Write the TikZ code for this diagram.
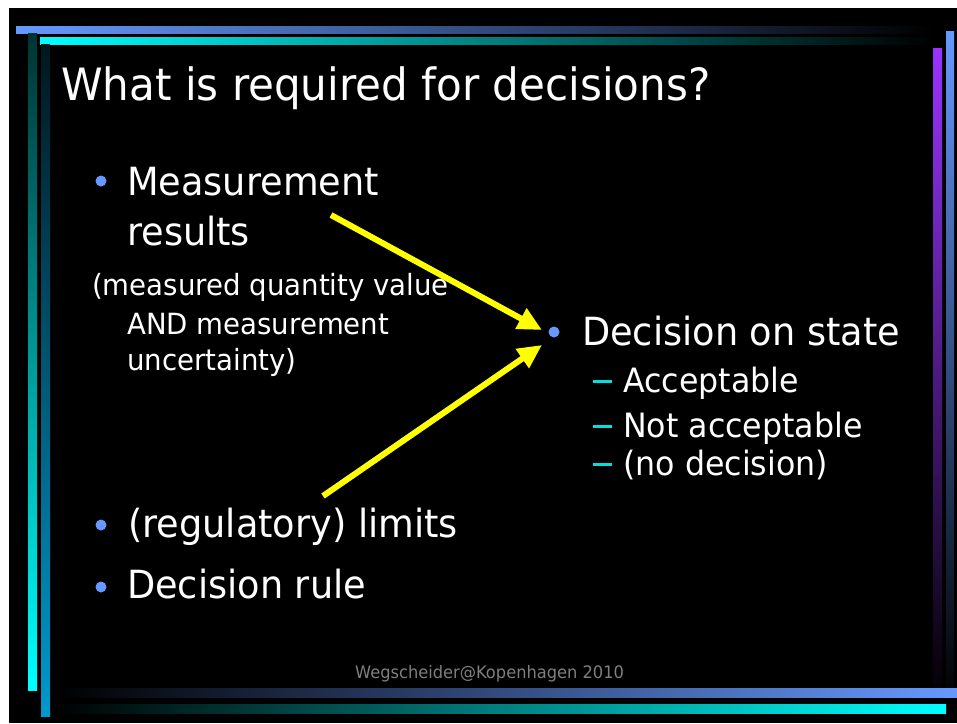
\documentclass[tikz,border=0pt]{standalone}
\usepackage{fontspec}
\setmainfont[FakeStretch=0.945]{DejaVu Sans}
\usetikzlibrary{arrows.meta}
\definecolor{lblue}{HTML}{6699FF}
\definecolor{dblue}{HTML}{0099CC}
\definecolor{purp}{HTML}{9933FF}
\definecolor{dashc}{HTML}{00E0E0}
\definecolor{foot}{HTML}{7F7F7F}
\definecolor{arr}{HTML}{FFFF00}
\tikzset{
  txt/.style={anchor=base west, inner sep=0pt, text=white},
  ttl/.style={txt, font=\fontsize{44.5}{54}\selectfont},
  big/.style={txt, font=\fontsize{38.8}{47}\selectfont},
  subl/.style={txt, font=\fontsize{29.2}{35}\selectfont},
  subr/.style={txt, font=\fontsize{33.5}{41}\selectfont},
  bul/.style={circle, fill=lblue, inner sep=0pt, minimum size=11pt},
  arrowc/.style={draw=arr, line width=6pt, -{Triangle[length=24pt,width=22pt]}},
}
\begin{document}
\begin{tikzpicture}[x=1pt,y=-1pt]
\useasboundingbox (0,0) rectangle (957,723);
\fill[white] (0,0) rectangle (957,723);
\fill[black] (9,8) rectangle (957,723);
% decorative bars
\shade[left color=lblue, right color=black] (16,26) rectangle (933,33);
\shade[left color=cyan, right color=black] (40,37) rectangle (933,44);
\shade[top color=black!80!cyan, bottom color=cyan] (28,33) rectangle (37,690);
\shade[top color=black!85!dblue, bottom color=dblue] (41,44) rectangle (50,716);
\shade[top color=purp, bottom color=black] (933,48) rectangle (942,702);
\shade[top color=lblue, bottom color=black] (946,31) rectangle (954,702);
\shade[left color=black, right color=lblue] (55,688) rectangle (957,697);
\shade[left color=black, right color=cyan] (53,704) rectangle (946,713);
% title
\node[ttl] (title) at (61,100) {What is required for decisions?};
% left bullets
\node[bul] (b1) at (101,181) {};
\node[big] (meas1) at (127,195) {Measurement};
\node[big] (meas2) at (127,245) {results};
\node[subl] (sub1) at (92,295) {(measured quantity value};
\node[subl] (sub2) at (127,334) {AND measurement};
\node[subl] (sub3) at (127,370) {uncertainty)};
\node[bul] (b2) at (101,525) {};
\node[big] (lim) at (128,537) {(regulatory) limits};
\node[bul] (b3) at (101,587) {};
\node[big] (rule) at (127,598) {Decision rule};
% right bullet
\node[bul] (b4) at (554,332) {};
\node[big] (dec) at (582,345) {Decision on state};
\fill[dashc] (593,380) rectangle (612,383);
\node[subr] (acc) at (623,392) {Acceptable};
\fill[dashc] (593,425) rectangle (612,428);
\node[subr] (nacc) at (623,437) {Not acceptable};
\fill[dashc] (593,463) rectangle (612,466);
\node[subr] (nod) at (623,475) {(no decision)};
% footer
\node[txt, text=foot, font=\fontsize{17.2}{21}\selectfont] (foot) at (355,678) {Wegscheider@Kopenhagen 2010};
% arrows
\coordinate (a1s) at (331,215);
\coordinate (a1e) at (542,330);
\coordinate (a2s) at (323,496);
\coordinate (a2e) at (542,345);
\draw[arrowc] (a1s) -- (a1e);
\draw[arrowc] (a2s) -- (a2e);
\end{tikzpicture}
\end{document}
